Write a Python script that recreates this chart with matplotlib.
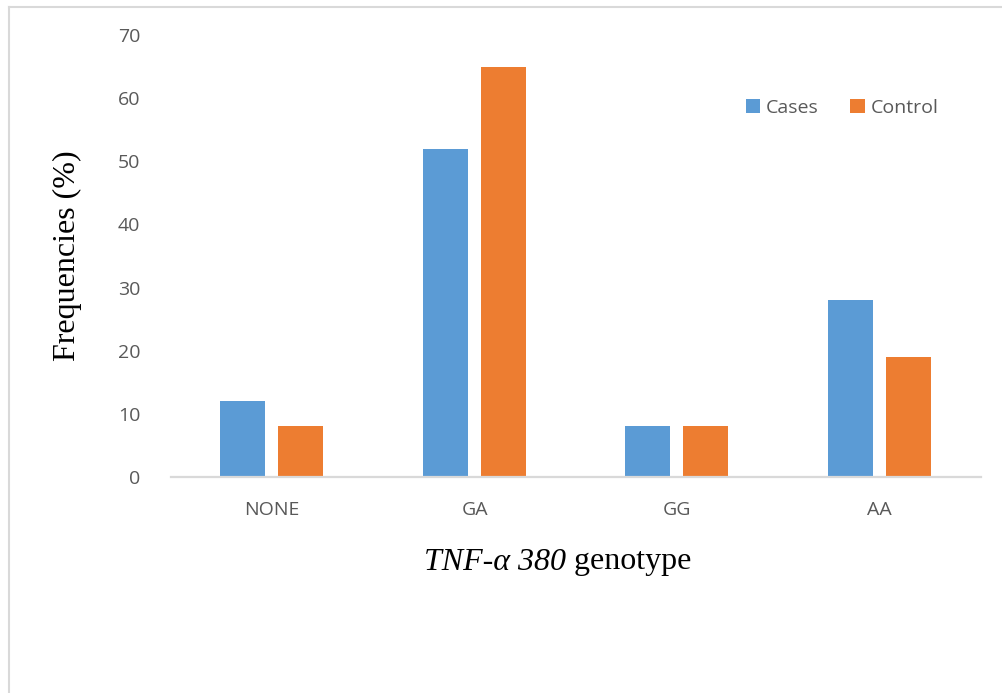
import numpy as np
import matplotlib
matplotlib.use("Agg")
import matplotlib.pyplot as plt
from matplotlib.lines import Line2D

genotypes = ["NONE", "GA", "GG", "AA"]
cases = [12, 52, 8, 28]
control = [8, 65, 8, 19]
y_ticks = [0, 10, 20, 30, 40, 50, 60, 70]

fig = plt.figure(figsize=(10.02, 6.93), dpi=100)
ax = fig.add_axes([171 / 1002, 216 / 693, 810 / 1002, 442 / 693])

x = np.arange(len(genotypes))
width = 0.222
ax.bar(x - 0.146, cases, width, color="#5B9BD5", label="Cases", zorder=2)
ax.bar(x + 0.140, control, width, color="#ED7D31", label="Control", zorder=2)

ax.set_xlim(-0.5, len(genotypes) - 0.5)
ax.set_ylim(0, 70)
ax.set_yticks(y_ticks)
ax.set_xticks(x)
ax.set_xticklabels(genotypes)

for s in ["top", "right", "left"]:
    ax.spines[s].set_visible(False)
ax.spines["bottom"].set_color("#d9d9d9")
ax.spines["bottom"].set_linewidth(1.6)
ax.spines["bottom"].set_zorder(3)
ax.tick_params(length=0, labelsize=14, labelcolor="#595959")
ax.tick_params(axis="y", pad=22)
ax.tick_params(axis="x", pad=17)
for lbl in ax.get_xticklabels() + ax.get_yticklabels():
    lbl.set_family("Open Sans")

ax.set_ylabel("Frequencies (%)", family="Liberation Serif", fontsize=23, labelpad=26)

# x axis title: italic gene name followed by upright "genotype"
fig.text(566 / 1002, 1 - 562 / 693, "TNF-α 380", family="Liberation Serif",
         style="italic", fontsize=23, ha="right", va="center")
fig.text(566 / 1002, 1 - 562 / 693, " genotype", family="Liberation Serif",
         fontsize=23, ha="left", va="center")

leg = ax.legend(loc="center left", bbox_to_anchor=(0.688, 0.835), ncol=2,
                frameon=False, handlelength=0.75, handleheight=0.75,
                handletextpad=0.3, columnspacing=1.6,
                prop={"family": "Open Sans", "size": 14})
for t in leg.get_texts():
    t.set_color("#595959")

# light frame around the chart area
fig.add_artist(Line2D([8.5 / 1002, 8.5 / 1002], [0, 1 - 7 / 693],
                      transform=fig.transFigure, color="#d9d9d9", lw=1.5))
fig.add_artist(Line2D([8.5 / 1002, 1], [1 - 7 / 693, 1 - 7 / 693],
                      transform=fig.transFigure, color="#d9d9d9", lw=1.5))

fig.savefig("out.png", dpi=100)
